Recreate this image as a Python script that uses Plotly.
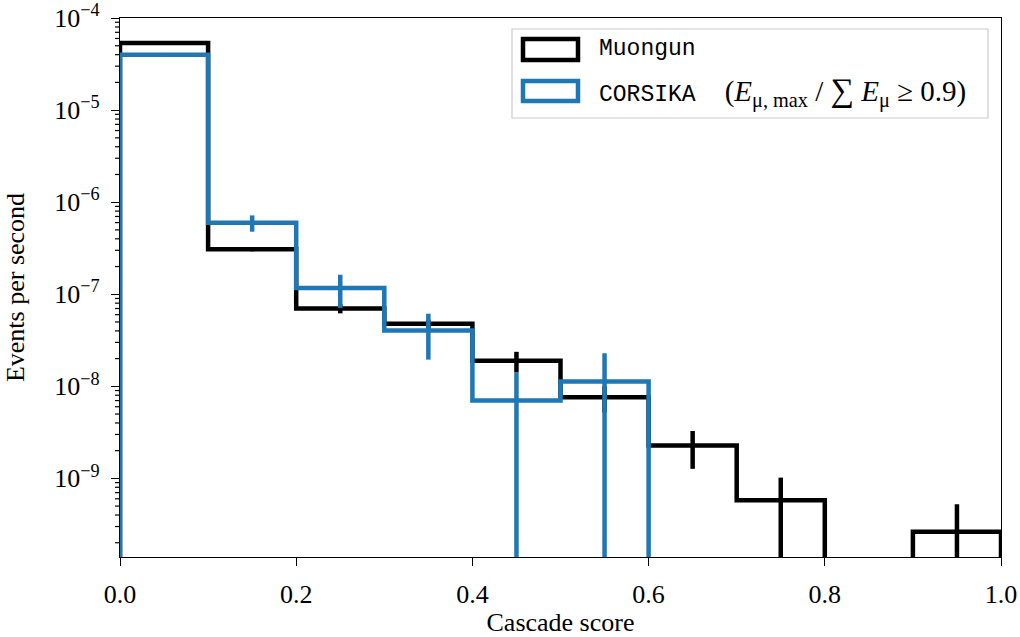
import numpy as np
import plotly.graph_objects as go

# Histogram binning on cascade score
bin_edges = [0.0, 0.1, 0.2, 0.3, 0.4, 0.5, 0.6, 0.7, 0.8, 0.9, 1.0]

# Muongun rates (events per second) and statistical uncertainties
muongun_rate = [5.37e-5, 3.08e-7, 7.0e-8, 4.78e-8, 1.89e-8, 7.6e-9, 2.27e-9, 5.79e-10, 0.0, 2.63e-10]
muongun_err = [1.5e-6, 1.5e-8, 8.0e-9, 5.0e-9, 4.8e-9, 2.4e-9, 1.0e-9, 4.4e-10, 0.0, 2.6e-10]

# CORSIKA (single dominant muon) rates and uncertainties
corsika_rate = [4.0e-5, 5.98e-7, 1.17e-7, 4.05e-8, 7.0e-9, 1.13e-8, 0.0, 0.0, 0.0, 0.0]
corsika_err = [1.5e-6, 1.2e-7, 4.6e-8, 2.1e-8, 7.0e-9, 1.16e-8, 0.0, 0.0, 0.0, 0.0]

y_decades = [-9, -8, -7, -6, -5, -4]
y_min, y_max = 1.4e-10, 1e-4

BLUE = "#1f77b4"
SERIF = "Liberation Serif"
MONO = "Liberation Mono"
FLOOR = 1e-16  # empty bins drop below the visible log range


def step_path(edges, values):
    """Outline of a step histogram, starting and ending at the baseline."""
    v = [max(x, FLOOR) for x in values]
    xs, ys = [edges[0]], [FLOOR]
    for i in range(len(v)):
        xs += [edges[i], edges[i + 1]]
        ys += [v[i], v[i]]
    xs.append(edges[-1])
    ys.append(FLOOR)
    return xs, ys


centers = [(a + b) / 2 for a, b in zip(bin_edges[:-1], bin_edges[1:])]

fig = go.Figure()

for rate, color in [(muongun_rate, "black"), (corsika_rate, BLUE)]:
    hx, hy = step_path(bin_edges, rate)
    fig.add_trace(go.Scatter(x=hx, y=hy, mode="lines",
                             line=dict(color=color, width=4.5),
                             showlegend=False, hoverinfo="skip"))

for rate, err, color in [(muongun_rate, muongun_err, "black"), (corsika_rate, corsika_err, BLUE)]:
    ex, ey, es = [], [], []
    for c, r, e in zip(centers, rate, err):
        if r > 0:
            ex.append(c)
            ey.append(r)
            es.append(e)
    fig.add_trace(go.Scatter(x=ex, y=ey, mode="markers",
                             marker=dict(size=0.1, color=color, opacity=0),
                             error_y=dict(type="data", array=es, arrayminus=es, symmetric=False,
                                          color=color, thickness=4.5, width=0),
                             showlegend=False, hoverinfo="skip"))

# Frame geometry in pixels
L, R, T, B = 120, 1001, 18, 557
W, H = 1020, 637


def px(x):
    return (x - L) / (R - L)


def py(y):
    return (B - y) / (B - T)


y_range = [np.log10(y_min), np.log10(y_max) + 0.0005]


def log_frac(v):
    """Fraction of the plot height at which value v sits on the log axis."""
    return (np.log10(v) - y_range[0]) / (y_range[1] - y_range[0])


# Legend box, drawn in paper coordinates
shapes = [
    dict(type="rect", xref="paper", yref="paper",
         x0=px(512), x1=px(988), y0=py(118), y1=py(29),
         line=dict(color="#cccccc", width=1.2), fillcolor="rgba(255,255,255,0.85)", layer="above"),
    dict(type="rect", xref="paper", yref="paper",
         x0=px(523), x1=px(578), y0=py(60), y1=py(39),
         line=dict(color="black", width=4.5), fillcolor="white", layer="above"),
    dict(type="rect", xref="paper", yref="paper",
         x0=px(523), x1=px(578), y0=py(101), y1=py(81),
         line=dict(color=BLUE, width=4.5), fillcolor="white", layer="above"),
]

# Minor log ticks on the left spine (2..9 within each decade)
minor_vals = [k * 10.0 ** d for d in range(-10, -4) for k in range(2, 10)]
for v in minor_vals:
    if y_min <= v <= y_max:
        f = float(log_frac(v))
        shapes.append(dict(type="line", xref="paper", yref="paper",
                           x0=-5.0 / (R - L), x1=0, y0=f, y1=f,
                           line=dict(color="black", width=1.2), layer="above"))

NB = "\u00a0"
annotations = [
    dict(text="Muongun", xref="paper", yref="paper", x=px(597), y=py(49),
         xanchor="left", yanchor="middle", showarrow=False,
         font=dict(family=MONO, size=23, color="black")),
    dict(text=(f'<span style="font-family:{MONO};font-size:23px">CORSIKA</span>{NB * 4}'
               f'(<i>E</i><sub>μ,{NB}max</sub>{NB}/{NB}'
               f'<span style="font-size:33px">∑</span>{NB}<i>E</i><sub>μ</sub>{NB}≥{NB}0.9)'),
         xref="paper", yref="paper", x=px(597), y=py(92),
         xanchor="left", yanchor="middle", showarrow=False,
         font=dict(family=SERIF, size=29, color="black")),
]

fig.update_layout(
    width=W, height=H,
    margin=dict(l=L, r=W - R, t=T, b=H - B, autoexpand=False),
    paper_bgcolor="white", plot_bgcolor="white",
    font=dict(family=SERIF, size=26, color="black"),
    shapes=shapes, annotations=annotations,
    showlegend=False,
)

fig.update_xaxes(
    range=[0, 1], tickvals=[0, 0.2, 0.4, 0.6, 0.8, 1.0],
    ticktext=["0.0", "0.2", "0.4", "0.6", "0.8", "1.0"],
    ticks="outside", ticklen=8, tickwidth=1.3, tickcolor="black",
    ticklabelstandoff=6,
    showline=True, linecolor="black", linewidth=1.3, mirror=True,
    showgrid=False, zeroline=False, automargin=False,
    tickfont=dict(family=SERIF, size=26),
    title=dict(text="Cascade score", font=dict(family=SERIF, size=26), standoff=12),
)

fig.update_layout(yaxis=dict(
    type="log", range=y_range,
    tickmode="array",
    tickvals=[10.0 ** d for d in y_decades],
    ticktext=[f"10<sup>−{-d}</sup>" for d in y_decades],
    ticks="outside", ticklen=8, tickwidth=1.3, tickcolor="black",
    ticklabelstandoff=6, ticklabeloverflow="allow",
    showline=True, linecolor="black", linewidth=1.3, mirror=True,
    showgrid=False, zeroline=False, automargin=False,
    tickfont=dict(family=SERIF, size=26),
    title=dict(text="Events per second", font=dict(family=SERIF, size=26), standoff=22),
))

fig.write_html("out.html")
